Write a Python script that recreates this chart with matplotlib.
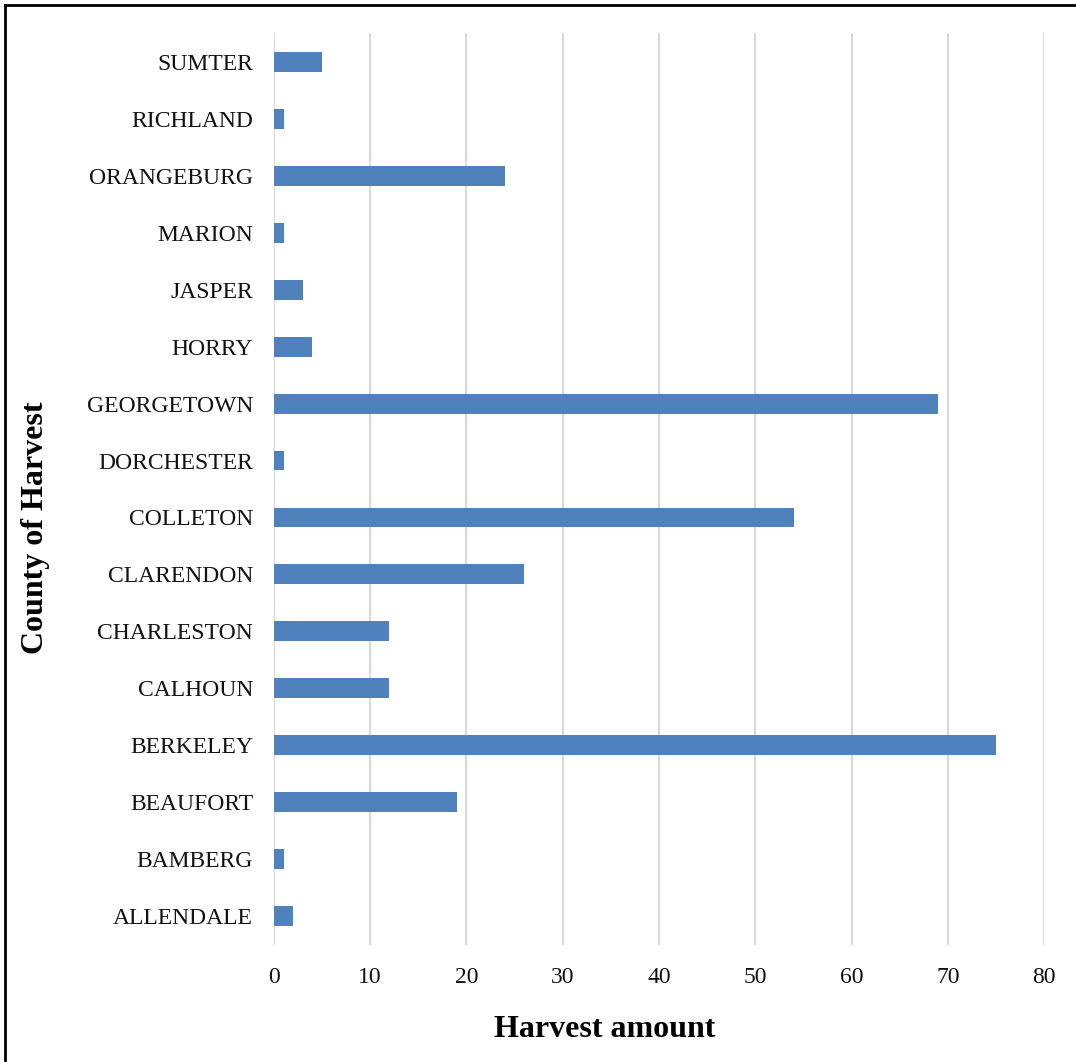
import matplotlib
matplotlib.use("Agg")
import matplotlib.pyplot as plt
from matplotlib.lines import Line2D

plt.rcParams['font.family'] = ['Liberation Serif', 'DejaVu Serif']

# counties, bottom to top as drawn
counties = ['ALLENDALE', 'BAMBERG', 'BEAUFORT', 'BERKELEY', 'CALHOUN',
            'CHARLESTON', 'CLARENDON', 'COLLETON', 'DORCHESTER', 'GEORGETOWN',
            'HORRY', 'JASPER', 'MARION', 'ORANGEBURG', 'RICHLAND', 'SUMTER']
harvest = [2, 1, 19, 75, 12, 12, 26, 54, 1, 69, 4, 3, 1, 24, 1, 5]
xticks = [0, 10, 20, 30, 40, 50, 60, 70, 80]

fig = plt.figure(figsize=(10.76, 10.62), dpi=100)
ax = fig.add_axes([0.2546, 0.1106, 0.7157, 0.8579])

ax.barh(range(len(counties)), harvest, height=0.35, color='#4F81BD', zorder=3)

ax.set_xlim(0, 80)
ax.set_ylim(-0.5, len(counties) - 0.5)
ax.set_xticks(xticks)
ax.set_yticks(range(len(counties)))
ax.set_yticklabels(counties)
ax.tick_params(axis='both', length=0, labelsize=17, colors='#111111')
ax.tick_params(axis='y', pad=15)
ax.tick_params(axis='x', pad=16)

ax.grid(axis='x', color='#D9D9D9', linewidth=1.5, zorder=0)
for s in ax.spines.values():
    s.set_visible(False)

ax.set_xlabel('Harvest amount', fontsize=23, fontweight='bold')
ax.xaxis.set_label_coords(0.43, -0.093)
ax.xaxis.label.set_va('center')
ax.set_ylabel('County of Harvest', fontsize=23, fontweight='bold')
ax.yaxis.set_label_coords(-0.31, 0.458)
ax.yaxis.label.set_va('center')

# frame on the left and top of the picture
fig.add_artist(Line2D([0.005, 0.005], [0.0, 0.995], transform=fig.transFigure,
                      color='black', linewidth=2))
fig.add_artist(Line2D([0.005, 1.0], [0.995, 0.995], transform=fig.transFigure,
                      color='black', linewidth=2))

fig.savefig('out.png', dpi=100)
